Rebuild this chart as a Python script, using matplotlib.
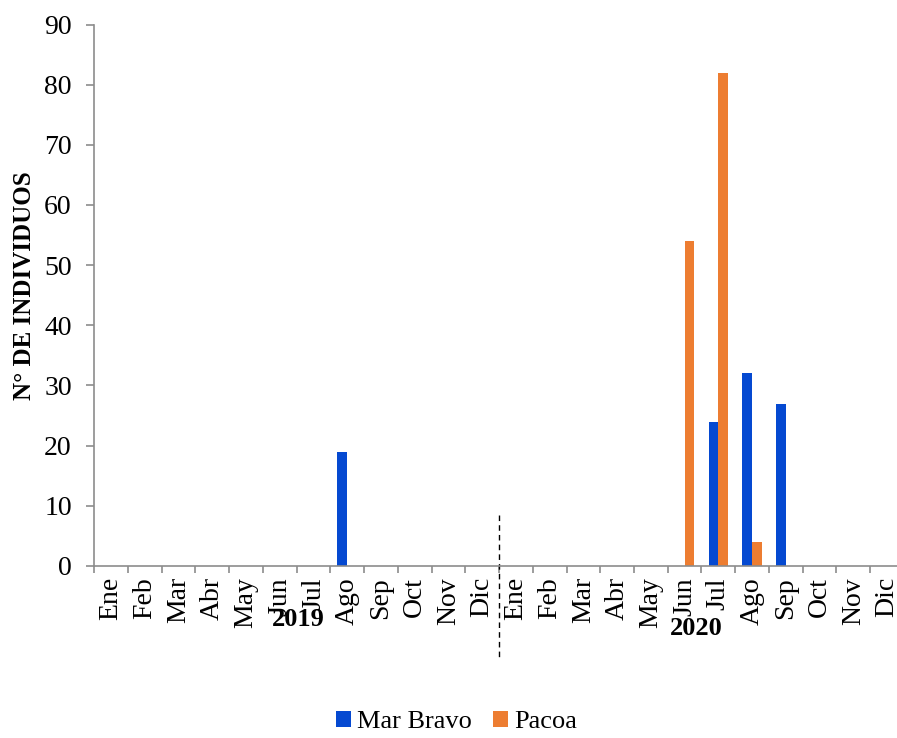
import numpy as np
import matplotlib
matplotlib.use('Agg')
import matplotlib.pyplot as plt
import matplotlib.transforms as mtransforms

plt.rcParams['font.family'] = ['Liberation Serif', 'DejaVu Serif']

# monthly counts, Jan 2019 .. Dec 2020
months = ['Ene', 'Feb', 'Mar', 'Abr', 'May', 'Jun', 'Jul', 'Ago', 'Sep', 'Oct', 'Nov', 'Dic'] * 2
mar_bravo = [0, 0, 0, 0, 0, 0, 0, 19, 0, 0, 0, 0,
             0, 0, 0, 0, 0, 0, 24, 32, 27, 0, 0, 0]
pacoa = [0, 0, 0, 0, 0, 0, 0, 0, 0, 0, 0, 0,
         0, 0, 0, 0, 0, 54, 82, 4, 0, 0, 0, 0]
years = ['2019', '2020']

blue = '#0549D1'
orange = '#ED7D31'
grey = '#8C8C8C'

fig = plt.figure(figsize=(8.97, 7.38), dpi=100)
ax = fig.add_axes([0.1048, 0.2331, 0.9030, 0.7337])

x = np.arange(len(months))
w = 0.29
ax.bar(x - w / 2, mar_bravo, w, color=blue, label='Mar Bravo')
ax.bar(x + w / 2, pacoa, w, color=orange, label='Pacoa')

ax.set_xlim(-0.5, len(months) - 0.5)
ax.set_ylim(0, 90)
ax.set_yticks(range(0, 91, 10))
ax.tick_params(axis='y', labelsize=20, color=grey, length=6, width=1.2, pad=10)

# month names between boundary ticks
ax.set_xticks(x)
ax.set_xticklabels(months, rotation=90, fontsize=20)
ax.set_xticks(np.arange(-0.5, len(months), 1), minor=True)
ax.tick_params(axis='x', which='major', length=0, pad=8)
ax.tick_params(axis='x', which='minor', length=5, color=grey, width=1.2)

for s in ['top', 'right']:
    ax.spines[s].set_visible(False)
for s in ['left', 'bottom']:
    ax.spines[s].set_color(grey)
    ax.spines[s].set_linewidth(1.2)

ax.set_ylabel('N° DE INDIVIDUOS', fontsize=18, fontweight='bold')
ax.yaxis.set_label_coords(-0.072, 0.517)

trans = mtransforms.blended_transform_factory(ax.transData, ax.transAxes)
ax.text(5.54, -0.098, years[0], transform=trans, ha='center', va='center',
        fontsize=19, fontweight='bold')
ax.text(17.34, -0.116, years[1], transform=trans, ha='center', va='center',
        fontsize=19, fontweight='bold')
ax.plot([11.5, 11.5], [0.094, -0.174], transform=trans, color='black',
        lw=1, ls=(0, (4, 3)), clip_on=False)

fig.legend(loc='center', bbox_to_anchor=(0.509, 0.022), ncol=2, frameon=False,
           fontsize=19, handlelength=0.55, handleheight=0.55, handletextpad=0.25,
           columnspacing=0.8)

fig.savefig('out.png', dpi=100)
